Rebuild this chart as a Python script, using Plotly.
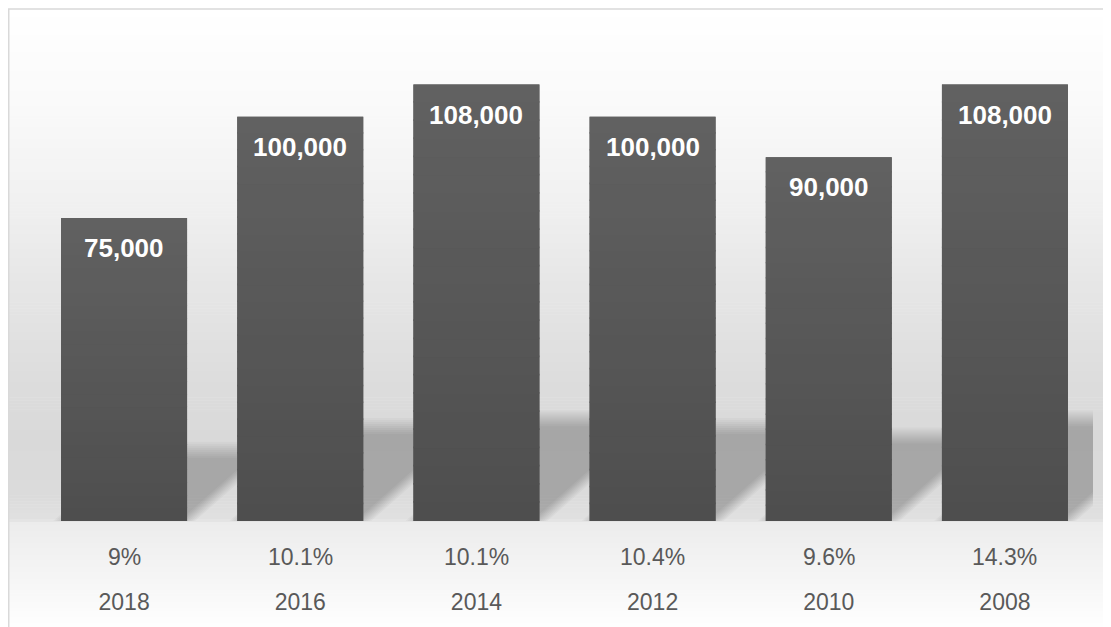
import plotly.graph_objects as go

# ---------------- data ----------------
years = ["2018", "2016", "2014", "2012", "2010", "2008"]
shares = ["9%", "10.1%", "10.1%", "10.4%", "9.6%", "14.3%"]
values = [75000, 100000, 108000, 100000, 90000, 108000]
value_labels = ["75,000", "100,000", "108,000", "100,000", "90,000", "108,000"]

# ---------------- layout constants ----------------
OFF = 8                      # page body margin of the html page
W, H = 1111 - OFF, 627 - OFF
ML, MR, MT, MB = 28, 18, 28, 101
PW, PH = W - ML - MR, H - MT - MB
YMAX = 120000
BAR_W = 0.715
N = len(years)
PPX = PW / N            # pixels per x unit
PPY = PH / YMAX         # pixels per y unit


def page_x(px):
    """page pixel x -> paper fraction"""
    return (px - OFF - ML) / PW


def page_y(py):
    """page pixel y -> paper fraction"""
    return (H - MB - (py - OFF)) / PH


def lerp_hex(c0, c1, t):
    a = [int(c0[k:k + 2], 16) for k in (1, 3, 5)]
    b = [int(c1[k:k + 2], 16) for k in (1, 3, 5)]
    return "rgb(%d,%d,%d)" % tuple(round(a[j] + (b[j] - a[j]) * t) for j in range(3))


shapes = []

# background gradient (decorative), stops: (page pixel y, gray level)
stops = [(7, 255), (100, 250), (200, 241), (280, 231), (380, 221), (440, 217),
         (500, 219), (525, 225), (527, 236), (570, 243), (627, 253), (640, 255)]


def gray_at(y):
    for (y0, g0), (y1, g1) in zip(stops[:-1], stops[1:]):
        if y0 <= y <= y1:
            t = (y - y0) / (y1 - y0) if y1 > y0 else 0
            return g0 + (g1 - g0) * t
    return stops[-1][1]


step = 3
y = 8
while y < 640:
    g = int(round(gray_at(y + step / 2)))
    shapes.append(dict(type="rect", xref="paper", yref="paper", layer="below",
                       x0=page_x(8), x1=page_x(1140),
                       y0=page_y(y), y1=page_y(y + step + 0.6),
                       fillcolor=f"rgb({g},{g},{g})", line=dict(width=0)))
    y += step

# frame
shapes.append(dict(type="rect", xref="paper", yref="paper", layer="below",
                   x0=page_x(8.75), x1=page_x(1140),
                   y0=page_y(8.75), y1=page_y(660),
                   line=dict(color="#d9d9d9", width=1.5), fillcolor="rgba(0,0,0,0)"))

# soft sheared shadows derived from each bar's value
SH_RATIO = 0.235
SKEW = 1.12
for i, v in enumerate(values):
    h = SH_RATIO * v * PPY
    xl = -BAR_W / 2 * PPX
    xr = BAR_W / 2 * PPX
    for o in (-8, -6, -4, -2, 0, 2, 4, 6, 8):
        top = h - o
        pts = [(xl + o, 0), (xr - o, 0), (xr - o + SKEW * top, top), (xl + o + SKEW * top, top)]
        path = "M " + " L ".join(f"{i + px / PPX:.5f},{py / PPY:.3f}" for px, py in pts) + " Z"
        shapes.append(dict(type="path", xref="x", yref="y", layer="below", path=path,
                           fillcolor="rgba(0,0,0,0.026)", line=dict(width=0)))

# vertical shading on each bar (decorative overlay following the bar's value)
K = 24
for i, v in enumerate(values):
    for k in range(K):
        y0 = v * k / K
        y1 = v * (k + 1) / K + (v * 0.004 if k < K - 1 else 0)
        shapes.append(dict(type="rect", xref="x", yref="y", layer="above",
                           x0=i - BAR_W / 2, x1=i + BAR_W / 2, y0=y0, y1=y1,
                           fillcolor=lerp_hex("#4e4e4e", "#616161", (k + 0.5) / K),
                           line=dict(width=0)))

fig = go.Figure()
fig.add_trace(go.Bar(
    x=list(range(N)), y=values, width=BAR_W,
    marker=dict(color="#575757", line=dict(width=0)),
    hoverinfo="skip",
))

annotations = []
for i, (v, lab) in enumerate(zip(values, value_labels)):
    annotations.append(dict(x=i, y=v, xref="x", yref="y", text=lab, showarrow=False,
                            yanchor="middle", yshift=-30,
                            font=dict(family="Liberation Sans", size=26, color="white",
                                      weight="bold")))
for i, s in enumerate(shares):
    annotations.append(dict(x=i, y=page_y(562), xref="x", yref="paper",
                            text=s, showarrow=False, yanchor="middle",
                            font=dict(family="Liberation Sans", size=23, color="#595959")))

fig.update_layout(
    width=W, height=H,
    margin=dict(l=ML, r=MR, t=MT, b=MB),
    paper_bgcolor="white", plot_bgcolor="rgba(0,0,0,0)",
    showlegend=False,
    shapes=shapes, annotations=annotations,
    xaxis=dict(range=[-0.5, N - 0.5], tickvals=list(range(N)), ticktext=years,
               showgrid=False, zeroline=False, showline=False, ticks="",
               ticklabelstandoff=65,
               tickfont=dict(family="Liberation Sans", size=23, color="#595959"),
               fixedrange=True),
    yaxis=dict(range=[0, YMAX], visible=False, fixedrange=True),
)

fig.write_html("out.html")
